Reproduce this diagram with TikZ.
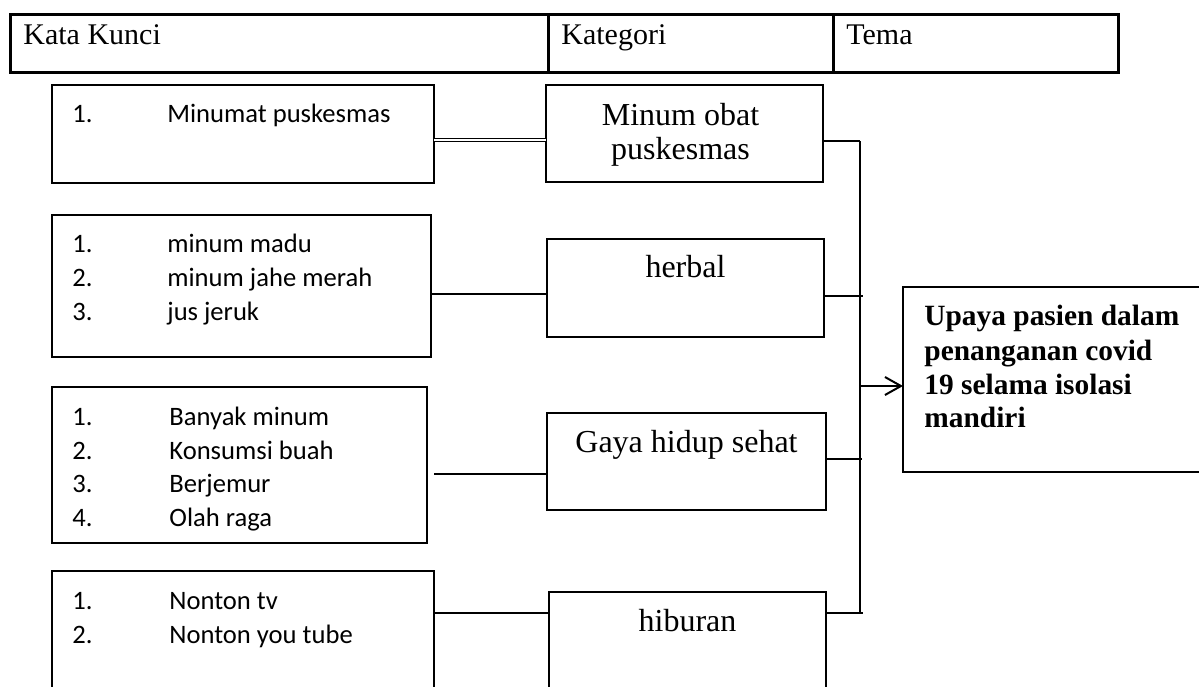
\documentclass[tikz,border=0pt]{standalone}
\usepackage{fontspec}
\setmainfont{Liberation Serif}
\newfontfamily\calfont{Carlito}
\usetikzlibrary{arrows.meta}
\begin{document}
\begin{tikzpicture}[x=0.5pt,y=-0.5pt,
 bx/.style={draw, line width=1.3pt, inner sep=0pt, outer sep=0pt, anchor=north west},
 hd/.style={draw, line width=1.5pt, inner sep=0pt, outer sep=0pt, anchor=north west},
 sep/.style={line width=1.5pt},
 conn/.style={line width=0.6pt},
 dconn/.style={double, double distance=0.9pt, line width=0.45pt},
 kw/.style={font=\calfont\fontsize{13.3}{16}\selectfont, anchor=base west, inner sep=0pt},
 ct/.style={font=\fontsize{16}{18}\selectfont, anchor=base, inner sep=0pt},
 tt/.style={font=\bfseries\fontsize{14.7}{17}\selectfont, anchor=base west, inner sep=0pt},
 ht/.style={font=\fontsize{15}{17}\selectfont, anchor=base west, inner sep=0pt},
 arr/.style={line width=1pt, -{Straight Barb[length=8pt,width=9pt]}}]
\useasboundingbox (0,0) rectangle (1199,686);
\clip (0,0) rectangle (1199,686);
% header table
\node[hd, minimum width=554pt, minimum height=29pt] (hdr) at (10,14) {};
\draw[sep] (548,14) -- (548,72);
\draw[sep] (833,14) -- (833,72);
\node[ht] (h1) at (23,44) {Kata Kunci};
\node[ht] (h2) at (561,44) {Kategori};
\node[ht] (h3) at (846,44) {Tema};
% keyword boxes
\node[bx, minimum width=191pt, minimum height=49pt] (k1) at (52,85) {};
\node[bx, minimum width=189.5pt, minimum height=71pt] (k2) at (52,215) {};
\node[bx, minimum width=187.5pt, minimum height=78pt] (k3) at (52,387) {};
\node[bx, minimum width=191pt, minimum height=70pt] (k4) at (52,571) {};
\node[kw] (k1n1) at (72,122) {1.};
\node[kw] (k1t1) at (167,122) {Minumat puskesmas};
\node[kw] (k2n1) at (72,252) {1.};
\node[kw] (k2t1) at (167,252) {minum madu};
\node[kw] (k2n2) at (72,286) {2.};
\node[kw] (k2t2) at (167,286) {minum jahe merah};
\node[kw] (k2n3) at (72,320) {3.};
\node[kw] (k2t3) at (167,320) {jus jeruk};
\node[kw] (k3n1) at (72,425) {1.};
\node[kw] (k3t1) at (169,425) {Banyak minum};
\node[kw] (k3n2) at (72,459) {2.};
\node[kw] (k3t2) at (169,459) {Konsumsi buah};
\node[kw] (k3n3) at (72,492) {3.};
\node[kw] (k3t3) at (169,492) {Berjemur};
\node[kw] (k3n4) at (72,526) {4.};
\node[kw] (k3t4) at (169,526) {Olah raga};
\node[kw] (k4n1) at (72,609) {1.};
\node[kw] (k4t1) at (169,609) {Nonton tv};
\node[kw] (k4n2) at (72,643) {2.};
\node[kw] (k4t2) at (169,643) {Nonton you tube};
% category boxes
\node[bx, minimum width=138.5pt, minimum height=48.5pt] (c1) at (546,85) {};
\node[bx, minimum width=138.5pt, minimum height=49pt] (c2) at (547,239) {};
\node[bx, minimum width=139.5pt, minimum height=48.5pt] (c3) at (547,413) {};
\node[bx, minimum width=138.5pt, minimum height=60pt] (c4) at (549,592) {};
\node[ct] (c1a) at ([xshift=-2pt]c1.north |- 0,125) {Minum obat};
\node[ct] (c1b) at ([xshift=-2pt]c1.north |- 0,159) {puskesmas};
\node[ct] (c2a) at (c2.north |- 0,277) {herbal};
\node[ct] (c3a) at (c3.north |- 0,452) {Gaya hidup sehat};
\node[ct] (c4a) at (c4.north |- 0,631) {hiburan};
% theme box
\node[bx, minimum width=160pt, minimum height=92.5pt] (tema) at (903,287) {};
\node[tt] (t1) at (924,325) {Upaya pasien dalam};
\node[tt] (t2) at (924,360) {penanganan covid};
\node[tt] (t3) at (924,394) {19 selama isolasi};
\node[tt] (t4) at (924,427) {mandiri};
% keyword -> category connectors
\coordinate (l1) at (0,140);
\coordinate (l2) at (0,294);
\coordinate (l3) at (0,474);
\coordinate (l4) at (0,613);
\draw[dconn] (k1.east |- l1) -- (c1.west |- l1);
\draw[conn] (k2.east |- l2) -- (c2.west |- l2);
\draw[conn, shorten <=3.5pt] (k3.east |- l3) -- (c3.west |- l3);
\draw[conn] (k4.east |- l4) -- (c4.west |- l4);
% category -> bus
\coordinate (b1) at (860,141);
\coordinate (b2) at (863,296);
\coordinate (b3) at (862,459);
\coordinate (b4) at (863,613);
\coordinate (btop) at (860,141);
\coordinate (bbot) at (860,613);
\coordinate (ba) at (861,386);
\draw[conn] (c1.east |- b1) -- (b1);
\draw[conn] (c2.east |- b2) -- (b2);
\draw[conn] (c3.east |- b3) -- (b3);
\draw[conn] (c4.east |- b4) -- (b4);
\draw[conn] (btop) -- (bbot);
\draw[arr] (ba) -- (tema.west |- ba);
\end{tikzpicture}
\end{document}
